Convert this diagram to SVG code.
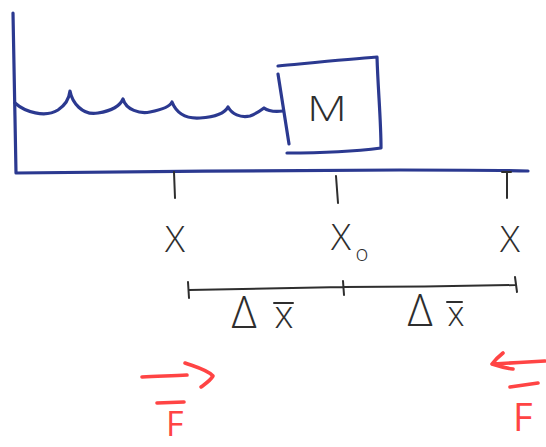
<svg xmlns="http://www.w3.org/2000/svg" width="546" height="447" viewBox="0 0 546 447">
<style>
.blue{fill:none;stroke:#2b3990;stroke-width:3.2;stroke-linecap:round;stroke-linejoin:round}
.ink{fill:none;stroke:#2e2e2e;stroke-width:2;stroke-linecap:round;stroke-linejoin:round}
.red{fill:none;stroke:#ff4444;stroke-width:3.6;stroke-linecap:round;stroke-linejoin:round}
.lbl{font-family:"Open Sans","Liberation Sans",sans-serif;font-weight:300;fill:#2e2e2e}
.rlbl{font-family:"Open Sans","Liberation Sans",sans-serif;font-weight:400;fill:#ff4444}
</style>
<rect width="546" height="447" fill="#ffffff"/>
<g id="ground">
<path class="blue" d="M13,13 C14,60 15,120 16,173 C120,172 300,170 400,170 C450,170 500,170 528,171"/>
</g>
<g id="spring">
<path class="blue" d="M15,103 C25,112 45,118 58,110 C64,106 69,100 70,91 C72,102 82,116 98,113 C110,111 120,106 123,99 C126,110 140,114 150,112 C160,110 170,107 172,102 C176,112 185,119 200,118 C215,117 225,113 228,107 C232,114 240,118 250,116 C256,114 260,111 264,108 C268,111 275,112 283,111"/>
</g>
<g id="mass">
<path class="blue" d="M278,74 L289,144"/>
<path class="blue" d="M278,66 C310,63 350,59 377,57 C378,90 381,120 381,148 C350,152 310,153 287,153"/>
<text class="lbl" x="307" y="121" font-size="35" textLength="40" lengthAdjust="spacingAndGlyphs">M</text>
</g>
<g id="ticks">
<path class="ink" d="M174,172 L175,198"/>
<path class="ink" d="M336,176 L338,203"/>
<path class="ink" d="M502,172 L511,172 M507,172 L507,198"/>
</g>
<g id="positions">
<text class="lbl" x="175" y="252" font-size="37" text-anchor="middle">X</text>
<text class="lbl" x="341" y="250" font-size="37" text-anchor="middle">X</text>
<text class="lbl" x="362" y="261" font-size="22" text-anchor="middle">o</text>
<text class="lbl" x="510" y="252" font-size="37" text-anchor="middle">X</text>
</g>
<g id="displacement">
<path class="ink" d="M188,282 L189,298 M189,290 C250,289 300,288 343,287 C400,287 470,286 515,285 M343,281 L344,295 M515,277 L517,292"/>
<text class="lbl" x="244" y="328" font-size="44" text-anchor="middle">Δ</text>
<text class="lbl" x="284" y="328" font-size="38" text-anchor="middle">x</text>
<path class="ink" d="M274,303 L293,303"/>
<text class="lbl" x="420" y="326" font-size="44" text-anchor="middle">Δ</text>
<text class="lbl" x="456" y="326" font-size="34" text-anchor="middle">x</text>
<path class="ink" d="M447,302 L462,302"/>
</g>
<g id="forces">
<path class="red" d="M142,377 C158,376 172,376 187,375 M185,363 C196,367 208,370 213,376 C210,381 205,384 201,387"/>
<path class="red" d="M157,403 L184,402"/>
<text class="rlbl" x="166" y="436" font-size="34">F</text>
<path class="red" d="M545,361 C528,362 510,363 493,364 M503,353 C498,357 495,360 492,364 C498,366 505,368 513,369"/>
<path class="red" d="M510,387 L538,383"/>
<text class="rlbl" x="513" y="431" font-size="38">F</text>
</g>
</svg>
